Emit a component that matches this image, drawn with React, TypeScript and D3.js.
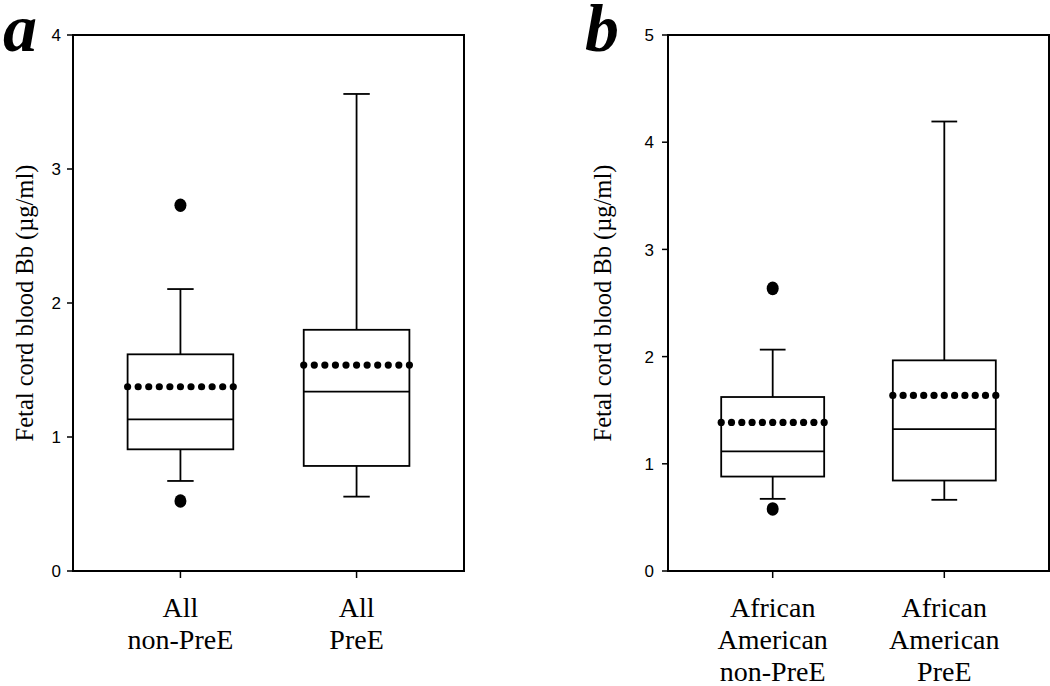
import React, { useEffect } from "react";
import * as d3 from "d3";

// Panel a: all subjects
const catsA = [["All", "non-PreE"], ["All", "PreE"]];
const q1A = [0.908, 0.784];
const medA = [1.132, 1.338];
const q3A = [1.617, 1.8];
const meanA = [1.375, 1.537];
const whLoA = [0.672, 0.555];
const whHiA = [2.104, 3.56];
const outA = [[2.729, 0.522], []];
const ticksA = [0, 1, 2, 3, 4];

// Panel b: African American subjects
const catsB = [["African", "American", "non-PreE"], ["African", "American", "PreE"]];
const q1B = [0.881, 0.844];
const medB = [1.115, 1.324];
const q3B = [1.623, 1.965];
const meanB = [1.386, 1.638];
const whLoB = [0.673, 0.664];
const whHiB = [2.065, 4.193];
const outB = [[2.636, 0.579], []];
const ticksB = [0, 1, 2, 3, 4, 5];

const yLabel = "Fetal cord blood Bb (µg/ml)";

interface PanelProps {
  letter: string;
  left: number;
  right: number;
  cats: string[][];
  q1: number[];
  med: number[];
  q3: number[];
  mean: number[];
  whLo: number[];
  whHi: number[];
  out: number[][];
  ticks: number[];
  labelX: number;
  letterX: number;
  tickGap: number;
}

const top = 35;
const bottom = 571;

function Panel(p: PanelProps) {
  const y = d3.scaleLinear().domain([0, p.ticks[p.ticks.length - 1]]).range([bottom, top]);
  const x = d3.scalePoint<number>().domain(p.cats.map((_, i) => i)).range([p.left, p.right]).padding(0.61);
  const boxW = x.step() * 0.6;
  const capW = boxW * 0.25;
  const sw = 1.8;
  return (
    <g>
      <text x={p.letterX} y={51} fontFamily="'Liberation Serif', serif" fontStyle="italic" fontWeight="bold" fontSize={68}>{p.letter}</text>
      {/* y ticks */}
      {p.ticks.map(t => (
        <g key={t}>
          <line x1={p.left - 6} x2={p.left} y1={y(t)} y2={y(t)} stroke="#000" strokeWidth={1.5} />
          <text x={p.left - p.tickGap} y={y(t)} dy="0.36em" textAnchor="end" fontFamily="'Liberation Sans', Arial, sans-serif" fontSize={17}>{t}</text>
        </g>
      ))}
      <text transform={`translate(${p.labelX},${(top + bottom) / 2}) rotate(-90)`} textAnchor="middle" fontFamily="'Liberation Serif', serif" fontSize={24.5}>{yLabel}</text>
      {p.cats.map((c, i) => {
        const cx = x(i) as number;
        const x0 = cx - boxW / 2;
        const nDots = 11;
        return (
          <g key={i}>
            <line x1={cx} x2={cx} y1={bottom} y2={bottom + 7} stroke="#000" strokeWidth={1.5} />
            {c.map((s, j) => (
              <text key={j} x={cx} y={617 + j * 32} textAnchor="middle" fontFamily="'Liberation Serif', serif" fontSize={28}>{s}</text>
            ))}
            {/* whiskers */}
            <line x1={cx} x2={cx} y1={y(p.q3[i])} y2={y(p.whHi[i])} stroke="#000" strokeWidth={sw} />
            <line x1={cx - capW / 2} x2={cx + capW / 2} y1={y(p.whHi[i])} y2={y(p.whHi[i])} stroke="#000" strokeWidth={sw} />
            <line x1={cx} x2={cx} y1={y(p.q1[i])} y2={y(p.whLo[i])} stroke="#000" strokeWidth={sw} />
            <line x1={cx - capW / 2} x2={cx + capW / 2} y1={y(p.whLo[i])} y2={y(p.whLo[i])} stroke="#000" strokeWidth={sw} />
            <rect x={x0} y={y(p.q3[i])} width={boxW} height={y(p.q1[i]) - y(p.q3[i])} fill="none" stroke="#000" strokeWidth={sw} />
            <line x1={x0} x2={x0 + boxW} y1={y(p.med[i])} y2={y(p.med[i])} stroke="#000" strokeWidth={sw} />
            {d3.range(nDots).map(k => (
              <circle key={k} cx={x0 + (k * boxW) / (nDots - 1)} cy={y(p.mean[i])} r={3.6} fill="#000" />
            ))}
            {p.out[i].map((v, k) => (
              <ellipse key={k} cx={cx} cy={y(v)} rx={6} ry={6.8} fill="#000" />
            ))}
          </g>
        );
      })}
      <rect x={p.left} y={top} width={p.right - p.left} height={bottom - top} fill="none" stroke="#000" strokeWidth={2} />
    </g>
  );
}

export default function App() {
  useEffect(() => {
    document.body.style.margin = "0";
  }, []);
  return (
    <svg width={1050} height={686} style={{ display: "block", background: "#fff" }}>
      <Panel letter="a" left={73} right={464} cats={catsA} q1={q1A} med={medA} q3={q3A} mean={meanA}
        whLo={whLoA} whHi={whHiA} out={outA} ticks={ticksA} labelX={33} letterX={3} tickGap={12} />
      <Panel letter="b" left={668} right={1049} cats={catsB} q1={q1B} med={medB} q3={q3B} mean={meanB}
        whLo={whLoB} whHi={whHiB} out={outB} ticks={ticksB} labelX={611} letterX={585} tickGap={14} />
    </svg>
  );
}
